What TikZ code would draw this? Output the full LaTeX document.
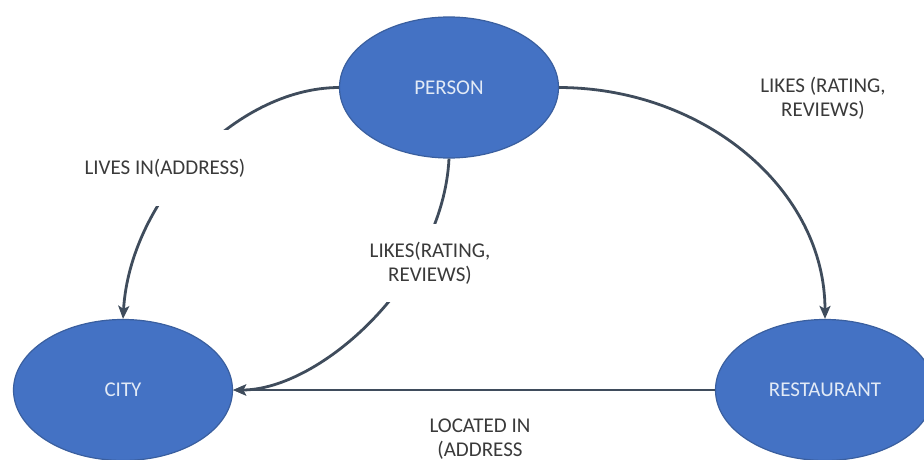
\documentclass[tikz,border=0pt]{standalone}
\usepackage{fontspec}
\setmainfont{Carlito}
\usetikzlibrary{shapes.geometric,arrows.meta}

\definecolor{entityfill}{HTML}{4472C4}
\definecolor{entityline}{HTML}{3A5F9F}
\definecolor{entitytext}{HTML}{E2EAF6}
\definecolor{edgecol}{HTML}{3F4C5C}
\definecolor{labelcol}{HTML}{3A3A3A}

\tikzset{
  entity/.style={ellipse, draw=entityline, line width=1.2pt, fill=entityfill,
    minimum width=219pt, minimum height=141pt, inner sep=0pt,
    text=entitytext, font=\fontsize{21}{25}\selectfont},
  edge/.style={draw=edgecol, line width=2.8pt,
    -{Stealth[length=13pt,width=11pt,inset=3pt]}},
  rel/.style={text=labelcol, align=center, font=\fontsize{21}{24}\selectfont},
  relgap/.style={rel, fill=white, inner xsep=2pt}
}

\begin{document}
\begin{tikzpicture}[x=1pt,y=-1pt]
  \useasboundingbox (0,0) rectangle (924,460);
  \clip (0,0) rectangle (924,460);
  \fill[white] (0,0) rectangle (924,460);

  % entities
  \node[entity] (person) at (449,87.5) {PERSON};
  \node[entity] (city) at (123,390) {CITY};
  \node[entity] (restaurant) at (825,390) {RESTAURANT};

  % relationships
  \draw[edge] (person.west) .. controls (235,88) and (130,200) .. (city.north);
  \draw[edge] (person.east) .. controls (705,88) and (825,190) .. (restaurant.north);
  \draw[edge] (person.south) .. controls (443,280) and (320,390) .. (city.east);
  \draw[edge] (restaurant.west) -- (city.east);

  % relationship labels (white boxes open a gap in the curves)
  \node[relgap, inner ysep=29pt] (livesin) at (165,168) {LIVES IN(ADDRESS)};
  \node[relgap, inner ysep=18pt] (likescity) at (430,263) {LIKES(RATING,\\REVIEWS)};
  \node[rel] (likesrest) at (823,98) {LIKES (RATING,\\REVIEWS)};
  \node[rel] (located) at (480,439) {LOCATED IN\\(ADDRESS};
\end{tikzpicture}
\end{document}
